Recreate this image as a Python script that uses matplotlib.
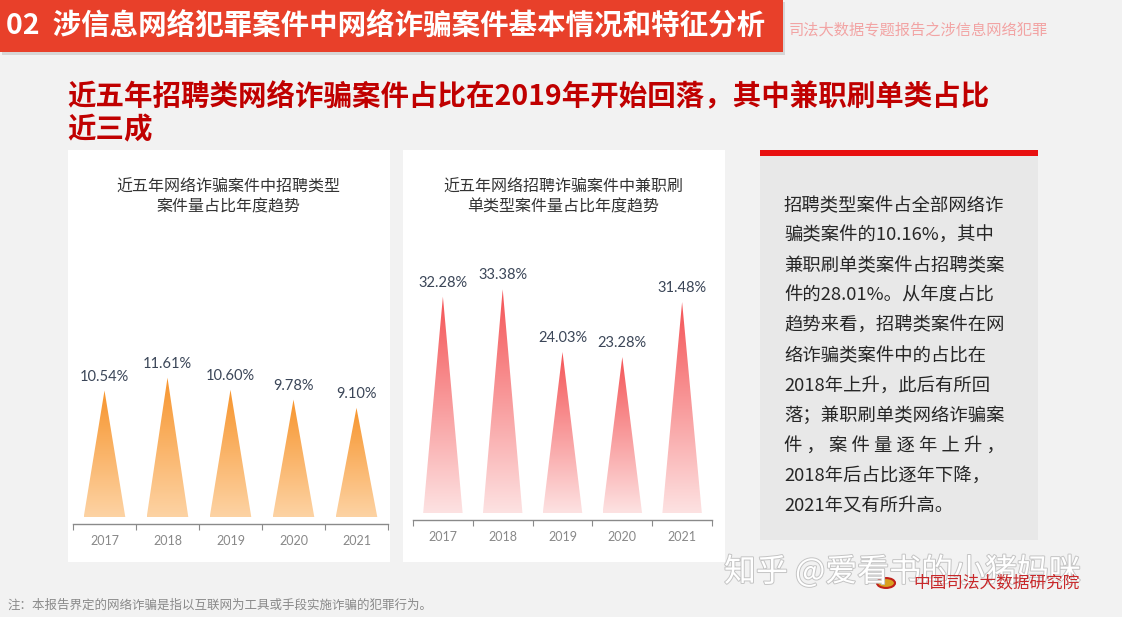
import numpy as np
import matplotlib
matplotlib.use("Agg")
import matplotlib.pyplot as plt
import matplotlib.patheffects as pe
from matplotlib.colors import LinearSegmentedColormap
from matplotlib.patches import Rectangle, Polygon, Circle

plt.rcParams["font.family"] = ["Noto Sans CJK SC", "DejaVu Sans"]

# Data
years = ["2017", "2018", "2019", "2020", "2021"]
recruit_share = [10.54, 11.61, 10.60, 9.78, 9.10]
parttime_share = [32.28, 33.38, 24.03, 23.28, 31.48]

header = "02  涉信息网络犯罪案件中网络诈骗案件基本情况和特征分析"
header_right = "司法大数据专题报告之涉信息网络犯罪"
subtitle = ["近五年招聘类网络诈骗案件占比在2019年开始回落，其中兼职刷单类占比", "近三成"]
left_title = "近五年网络诈骗案件中招聘类型\n案件量占比年度趋势"
right_title = "近五年网络招聘诈骗案件中兼职刷\n单类型案件量占比年度趋势"
note_lines = [
    "招聘类型案件占全部网络诈",
    "骗类案件的10.16%，其中",
    "兼职刷单类案件占招聘类案",
    "件的28.01%。从年度占比",
    "趋势来看，招聘类案件在网",
    "络诈骗类案件中的占比在",
    "2018年上升，此后有所回",
    "落；兼职刷单类网络诈骗案",
    "件 ， 案 件 量 逐 年 上 升 ，",
    "2018年后占比逐年下降，",
    "2021年又有所升高。",
]
footnote = "注：本报告界定的网络诈骗是指以互联网为工具或手段实施诈骗的犯罪行为。"

W, H = 1122, 617
fig = plt.figure(figsize=(W / 100, H / 100), dpi=100)
fig.patch.set_facecolor("#f2f2f2")


def box(x0, y0, x1, y1):
    # pixel box (top-left origin) -> figure fraction rect
    return [x0 / W, 1 - y1 / H, (x1 - x0) / W, (y1 - y0) / H]


def fx(x):
    return x / W


def fy(y):
    return 1 - y / H


def bg_rect(x0, y0, x1, y1, color, z=-2):
    fig.patches.append(Rectangle((fx(x0), fy(y1)), (x1 - x0) / W, (y1 - y0) / H,
                                 transform=fig.transFigure, facecolor=color,
                                 edgecolor="none", zorder=z))


# Header bar
bg_rect(2, 2, 785, 55, "#d6d6d6", z=-3)
bg_rect(0, 0, 783, 52, "#e8402a")
fig.text(fx(6), fy(26), header, color="white", fontsize=20.5, fontweight="bold",
         va="center", ha="left")
fig.text(fx(789), fy(30), header_right, color="#f2a4a4", fontsize=11, va="center")

# Subtitle
fig.text(fx(67), fy(97), subtitle[0], color="#c00000", fontsize=20.5, fontweight="bold", va="center")
fig.text(fx(67), fy(130), subtitle[1], color="#c00000", fontsize=20.5, fontweight="bold", va="center")

# White panels
bg_rect(68, 150, 390, 562, "white")
bg_rect(403, 150, 725, 562, "white")


def gradient_triangles(ax, values, top_color, bottom_color, half_w):
    cmap = LinearSegmentedColormap.from_list("g", [bottom_color, top_color])
    grad = np.linspace(0, 1, 256).reshape(-1, 1)
    for i, v in enumerate(values):
        tri = Polygon([(i - half_w, 0), (i, v), (i + half_w, 0)], closed=True,
                      facecolor="none", edgecolor="none")
        ax.add_patch(tri)
        im = ax.imshow(grad, cmap=cmap, origin="lower", aspect="auto",
                       extent=(i - half_w, i + half_w, 0, v), zorder=2)
        im.set_clip_path(tri)


def draw_chart(rect, values, ylim, top_color, bottom_color, title, title_x):
    ax = fig.add_axes(rect)
    ax.set_facecolor("none")
    gradient_triangles(ax, values, top_color, bottom_color, 0.33)
    for i, v in enumerate(values):
        ax.annotate(f"{v:.2f}%", (i, v), xytext=(0, 5), textcoords="offset points",
                    ha="center", va="bottom", fontsize=10.5, color="#3b4658",
                    family=["Lato", "DejaVu Sans"])
    ax.set_xlim(-0.5, 4.5)
    ax.set_ylim(*ylim)
    for s in ["top", "right", "left"]:
        ax.spines[s].set_visible(False)
    ax.spines["bottom"].set_color("#8a8a8a")
    ax.spines["bottom"].set_linewidth(1.0)
    ax.set_yticks([])
    ax.set_xticks(np.arange(-0.5, 5, 1))
    ax.set_xticklabels([])
    ax.set_xticks(range(5), minor=True)
    ax.set_xticklabels(years, minor=True, fontsize=9, color="#888888",
                       family=["Lato", "DejaVu Sans"])
    ax.tick_params(axis="x", which="major", length=4, color="#8a8a8a", direction="out")
    ax.tick_params(axis="x", which="minor", length=0, pad=8)
    fig.text(fx(title_x), fy(197), title, ha="center", va="center", fontsize=11.5,
             color="#333333", linespacing=1.25)
    return ax


draw_chart(box(73, 250, 388, 524), recruit_share, (-0.58, 22.25),
           "#f7952e", "#fdd3a4", left_title, 228)
draw_chart(box(413, 250, 712, 520), parttime_share, (-1.04, 39.25),
           "#f45456", "#fde2e2", right_title, 563)

# Right text box
bg_rect(760, 150, 1038, 540, "#e8e8e8")
bg_rect(760, 150, 1038, 156, "#e81010", z=-1)
for k, line in enumerate(note_lines):
    fig.text(fx(784), fy(206 + k * 30), line, fontsize=13.2, color="#262626", va="center")

# Watermark and logo
fig.text(fx(724), fy(572), "知乎 @爱看书的小猪妈咪", fontsize=23, color="white", va="center",
         path_effects=[pe.withStroke(linewidth=1.4, foreground="#c4c4c4")])
fig.patches.append(Circle((fx(886), fy(583)), 9 / W, transform=fig.transFigure,
                          facecolor="#d8a020", edgecolor="#c0201a", linewidth=1.5, zorder=3))
fig.text(fx(913), fy(583), "中国司法大数据研究院", fontsize=12, color="#c8282a", va="center")

# Footnote
fig.text(fx(8), fy(605), footnote, fontsize=9, color="#8a8a8a", va="center")

fig.savefig("out.png", dpi=100, facecolor=fig.get_facecolor())
